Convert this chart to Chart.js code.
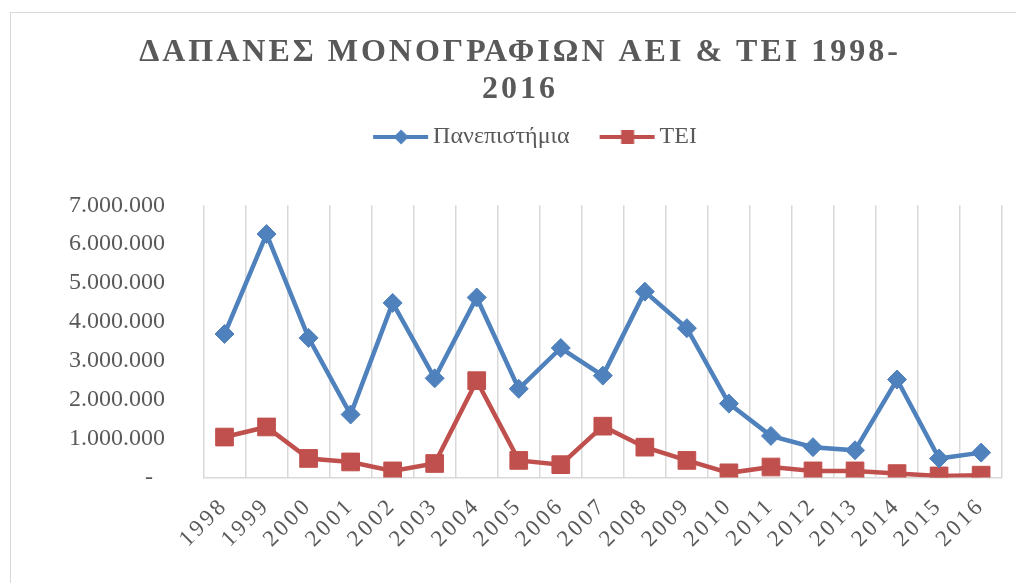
<!DOCTYPE html>
<html><head><meta charset="utf-8">
<script src="https://cdn.jsdelivr.net/npm/chart.js@4.4.1/dist/chart.umd.min.js"></script>
<style>html,body{margin:0;padding:0;background:#fff;overflow:hidden}canvas{display:block}</style>
</head><body>
<canvas id="c" width="1016" height="583"></canvas>
<script>
const titleLines = ['ΔΑΠΑΝΕΣ ΜΟΝΟΓΡΑΦΙΩΝ ΑΕΙ & ΤΕΙ 1998-', '2016'];
const years = ['1998','1999','2000','2001','2002','2003','2004','2005','2006','2007','2008','2009','2010','2011','2012','2013','2014','2015','2016'];
const seriesNames = ['Πανεπιστήμια', 'ΤΕΙ'];
const universities = [3690000, 6260000, 3590000, 1620000, 4490000, 2550000, 4630000, 2280000, 3330000, 2620000, 4780000, 3840000, 1900000, 1070000, 780000, 700000, 2520000, 490000, 640000];
const tei = [1040000, 1300000, 490000, 400000, 170000, 360000, 2490000, 440000, 330000, 1320000, 780000, 440000, 120000, 270000, 170000, 170000, 100000, 40000, 60000];
const yTickValues = [0, 1000000, 2000000, 3000000, 4000000, 5000000, 6000000, 7000000];

const BLUE = '#4F81BD', RED = '#C0504D', TEXT = '#595959', GRID = '#D9D9D9';
const SERIF = "'Liberation Serif', 'Times New Roman', serif";

function fmt(v) {
  if (v === 0) return '-  ';
  return String(v).replace(/\B(?=(\d{3})+(?!\d))/g, '.');
}

function makeIcon(color, shape) {
  const c = document.createElement('canvas');
  c.width = 94; c.height = 26;
  const g = c.getContext('2d');
  g.strokeStyle = color; g.fillStyle = color; g.lineWidth = 4;
  g.beginPath(); g.moveTo(38, 13); g.lineTo(93, 13); g.stroke();
  g.beginPath();
  if (shape === 'diamond') {
    g.moveTo(66, 5.5); g.lineTo(73.5, 13); g.lineTo(66, 20.5); g.lineTo(58.5, 13);
  } else {
    g.rect(59.5, 6, 13, 14);
  }
  g.closePath(); g.fill();
  return c;
}
const legendIcons = [makeIcon(BLUE, 'diamond'), makeIcon(RED, 'square')];

function spaced(obj, method, ctxGetter, spacing) {
  if (!obj || obj['_sp_' + method]) return;
  const orig = obj[method].bind(obj);
  obj[method] = function (a) {
    const ctx = ctxGetter();
    ctx.save();
    ctx.letterSpacing = spacing;
    orig(a);
    ctx.restore();
  };
  obj['_sp_' + method] = true;
}

const framePlugin = {
  id: 'frameAndSpacing',
  beforeDraw(chart) {
    const ctx = chart.ctx;
    ctx.save();
    ctx.fillStyle = '#fff';
    ctx.fillRect(0, 0, chart.width, chart.height);
    ctx.strokeStyle = GRID; ctx.lineWidth = 1;
    ctx.strokeRect(10.5, 12.5, 1200, 800);
    ctx.restore();
    spaced(chart.titleBlock, 'draw', () => chart.ctx, '3px');
    spaced(chart.scales.x, 'drawLabels', () => chart.ctx, '3px');
  }
};

const chart = new Chart(document.getElementById('c'), {
  type: 'line',
  data: {
    labels: years,
    datasets: [
      { label: seriesNames[0], data: universities, borderColor: BLUE, backgroundColor: BLUE,
        borderWidth: 4.5, pointStyle: 'rectRot', pointRadius: 9.5, pointBorderWidth: 1, tension: 0 },
      { label: seriesNames[1], data: tei, borderColor: RED, backgroundColor: RED,
        borderWidth: 4.5, pointStyle: 'rect', pointRadius: 12.5, pointBorderWidth: 1, tension: 0 }
    ]
  },
  options: {
    responsive: false,
    animation: false,
    devicePixelRatio: 1,
    layout: { padding: { left: 33.3, right: 9.3, top: 0, bottom: 0 } },
    plugins: {
      title: {
        display: true, text: titleLines, color: TEXT,
        font: { family: SERIF, size: 32, weight: 'bold', lineHeight: 1.15625 },
        padding: { top: 34, bottom: 17 }
      },
      legend: {
        display: true, position: 'top',
        labels: {
          usePointStyle: true, pointStyleWidth: 78, padding: 0, color: TEXT,
          font: { family: SERIF, size: 24 },
          generateLabels: (ch) => ch.data.datasets.map((ds, i) => ({
            text: ds.label, pointStyle: legendIcons[i], fillStyle: ds.borderColor,
            strokeStyle: ds.borderColor, lineWidth: 0, hidden: false, datasetIndex: i, fontColor: TEXT
          }))
        }
      },
      subtitle: {
        display: true, text: '', weight: 100,
        font: { size: 46.3, lineHeight: 1 }, padding: 0
      },
      tooltip: { enabled: false }
    },
    scales: {
      x: {
        offset: true,
        grid: { display: true, offset: true, color: GRID, lineWidth: 1.5, drawTicks: false },
        border: { display: true, color: GRID, width: 1.5 },
        ticks: { color: TEXT, font: { family: SERIF, size: 23 }, minRotation: 45, maxRotation: 45, padding: 15, autoSkip: false },
        afterFit: (s) => { s.height = 105.5; }
      },
      y: {
        min: 0, max: 7000000,
        afterBuildTicks: (s) => { s.ticks = yTickValues.map(v => ({ value: v })); },
        grid: { display: false, drawTicks: false },
        border: { display: false },
        ticks: { color: TEXT, font: { family: SERIF, size: 24 }, padding: 38.5, callback: (v) => fmt(v) },
        afterFit: (s) => { s.width = 170.2; }
      }
    }
  },
  plugins: [framePlugin]
});
chart.draw();
</script>
</body></html>
